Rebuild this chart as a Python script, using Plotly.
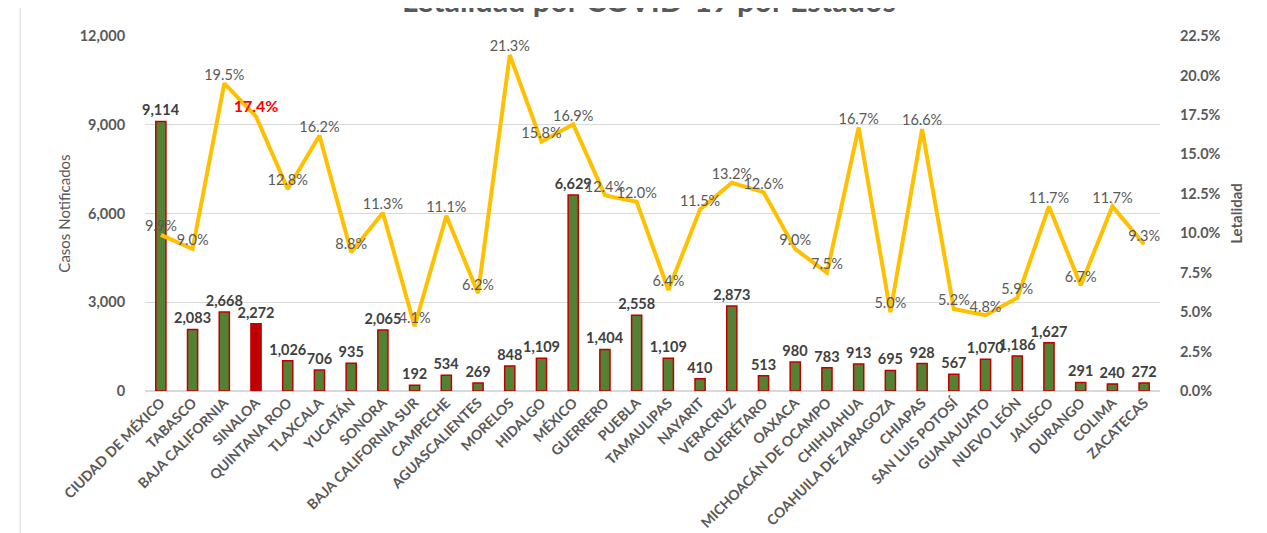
import plotly.graph_objects as go

estados = ["CIUDAD DE MÉXICO", "TABASCO", "BAJA CALIFORNIA", "SINALOA", "QUINTANA ROO", "TLAXCALA",
           "YUCATÁN", "SONORA", "BAJA CALIFORNIA SUR", "CAMPECHE", "AGUASCALIENTES", "MORELOS",
           "HIDALGO", "MÉXICO", "GUERRERO", "PUEBLA", "TAMAULIPAS", "NAYARIT", "VERACRUZ",
           "QUERÉTARO", "OAXACA", "MICHOACÁN DE OCAMPO", "CHIHUAHUA", "COAHUILA DE ZARAGOZA",
           "CHIAPAS", "SAN LUIS POTOSÍ", "GUANAJUATO", "NUEVO LEÓN", "JALISCO", "DURANGO",
           "COLIMA", "ZACATECAS"]
casos = [9114, 2083, 2668, 2272, 1026, 706, 935, 2065, 192, 534, 269, 848, 1109, 6629, 1404,
         2558, 1109, 410, 2873, 513, 980, 783, 913, 695, 928, 567, 1070, 1186, 1627, 291, 240, 272]
letalidad = [9.9, 9.0, 19.5, 17.4, 12.8, 16.2, 8.8, 11.3, 4.1, 11.1, 6.2, 21.3, 15.8, 16.9, 12.4,
             12.0, 6.4, 11.5, 13.2, 12.6, 9.0, 7.5, 16.7, 5.0, 16.6, 5.2, 4.8, 5.9, 11.7, 6.7, 11.7, 9.3]
destacado = "SINALOA"

FONT = "Lato"
GRAY = "#595959"

bar_colors = ["#C00000" if e == destacado else "#548235" for e in estados]
line_text = [f"<b>{v:.1f}%</b>" if e == destacado else f"{v:.1f}%" for e, v in zip(estados, letalidad)]
line_text_colors = ["#FF0000" if e == destacado else GRAY for e in estados]
line_text_sizes = [16 if e == destacado else 14.5 for e in estados]

fig = go.Figure()
fig.add_trace(go.Bar(
    x=estados, y=casos, yaxis="y",
    marker=dict(color=bar_colors, line=dict(color="#C00000", width=1.5)),
    width=0.32,
    text=[f"{v:,}" for v in casos], textposition="outside", constraintext="none",
    textfont=dict(family=FONT, size=14.5, color="#404040", weight="bold"),
    cliponaxis=False, name="Casos",
))
fig.add_trace(go.Scatter(
    x=estados, y=letalidad, yaxis="y2", mode="lines+text",
    line=dict(color="#FFC000", width=4),
    text=line_text, textposition="top center",
    textfont=dict(family=FONT, size=line_text_sizes, color=line_text_colors),
    cliponaxis=False, name="Letalidad",
))

fig.update_layout(
    width=1267, height=533,
    paper_bgcolor="white", plot_bgcolor="white",
    margin=dict(l=137, r=115, t=28, b=150, autoexpand=False),
    showlegend=False,
    annotations=[dict(text="<b>Letalidad por COVID-19 por Estados</b>", xref="paper", yref="paper",
                      x=0.497, y=1 + 36 / 355, xanchor="center", yanchor="middle", showarrow=False,
                      font=dict(family=FONT, size=30.5, color=GRAY))],
    xaxis=dict(range=[-0.5, len(estados) - 0.5], tickangle=-45,
               tickfont=dict(family=FONT, size=14, color=GRAY, weight="bold"),
               showgrid=False, showline=False, ticks="", automargin=False),
    yaxis=dict(range=[0, 12000], dtick=3000, tickformat=",", gridcolor="#D9D9D9", gridwidth=1,
               zeroline=True, zerolinecolor="#D9D9D9", zerolinewidth=1.5, automargin=False,
               tickfont=dict(family=FONT, size=14.5, color=GRAY, weight="bold"),
               ticks="outside", ticklen=16, tickcolor="rgba(0,0,0,0)",
               title=dict(text="Casos Notificados", font=dict(family=FONT, size=15, color=GRAY), standoff=5)),
    yaxis2=dict(range=[0, 22.5], dtick=2.5, tickformat=".1f", ticksuffix="%", overlaying="y",
                side="right", showgrid=False, zeroline=False, automargin=False,
                tickfont=dict(family=FONT, size=14.5, color=GRAY, weight="bold"),
                ticks="outside", ticklen=16, tickcolor="rgba(0,0,0,0)",
                title=dict(text="<b>Letalidad</b>", font=dict(family=FONT, size=15, color=GRAY), standoff=11)),
    bargap=0.5,
    shapes=[dict(type="line", xref="paper", yref="paper", x0=-0.123, x1=-0.123, y0=-0.5, y1=1.2,
                 line=dict(color="#D9D9D9", width=1))],
)

fig.write_html("out.html")
